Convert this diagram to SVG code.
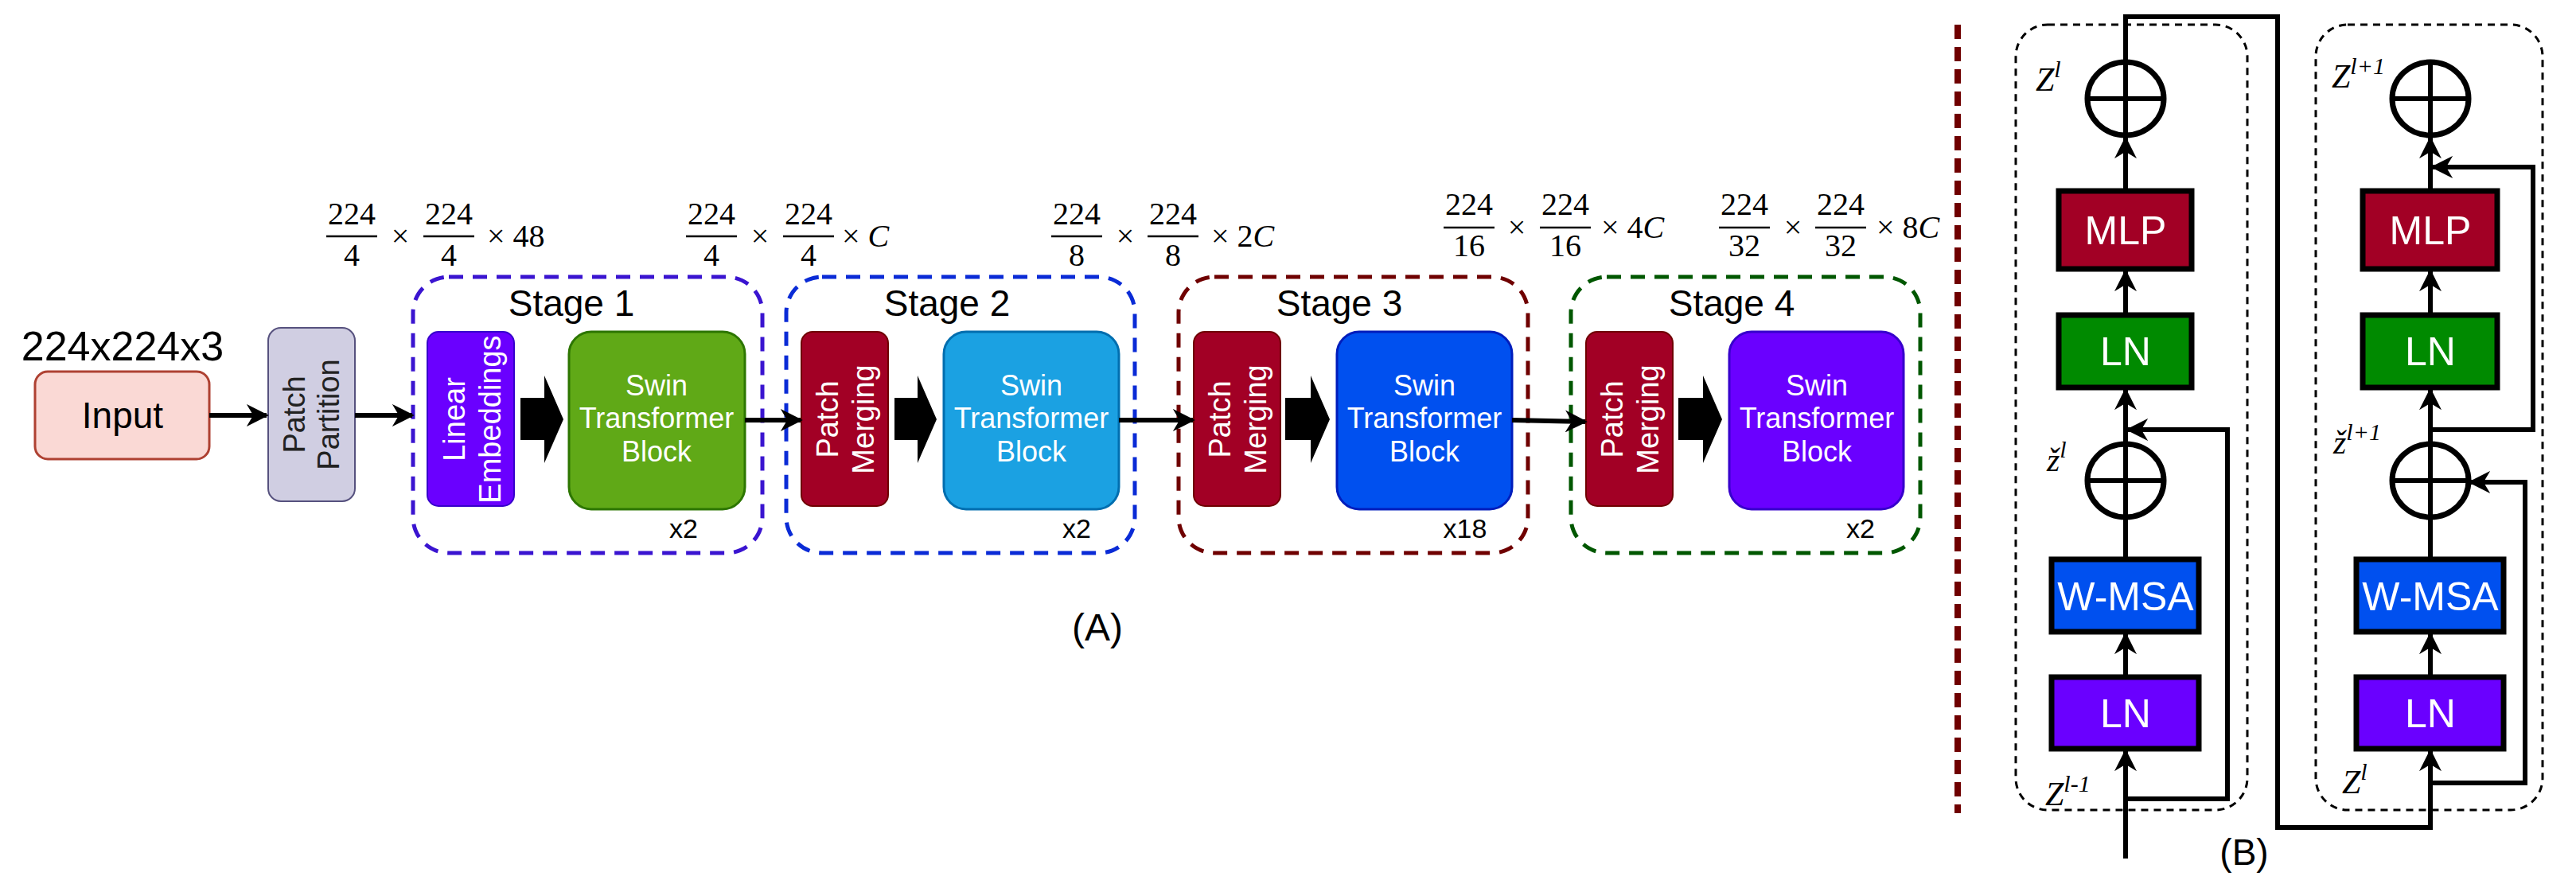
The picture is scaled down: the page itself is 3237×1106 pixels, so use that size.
<svg xmlns="http://www.w3.org/2000/svg" width="3237" height="1106" viewBox="0 0 3237 1106">
<style>
.s{font-family:"Liberation Sans",Arial,sans-serif}
.m{font-family:"Liberation Serif","DejaVu Serif",serif;font-size:40px}
.z{font-family:"Liberation Serif","DejaVu Serif",serif;font-style:italic;font-size:42px}
.w{fill:#fff}
.stage{fill:none;stroke-width:5;stroke-dasharray:18 12}
.big{fill:#000}
.ln{stroke:#000;stroke-width:6;fill:none}
.bx{stroke:#000;stroke-width:7}
.bar{stroke:#000;stroke-width:2.5}
</style>
<defs>
<marker id="ah2" viewBox="0 0 10 10" refX="9" refY="5" markerWidth="28" markerHeight="28" orient="auto" markerUnits="userSpaceOnUse">
<path d="M0,0 L10,5 L0,10 L3,5 Z" fill="#000"/>
</marker>
</defs>

<g id="input">
<text class="s" x="154" y="453" font-size="52" text-anchor="middle">224x224x3</text>
<rect x="44" y="467" width="219" height="110" rx="16" fill="#fad9d5" stroke="#ae4132" stroke-width="3"/>
<text class="s" x="154" y="538" font-size="46" text-anchor="middle">Input</text>
</g>
<g id="patch-partition">
<rect x="337" y="412" width="109" height="218" rx="16" fill="#d0cee2" stroke="#56517e" stroke-width="2"/>
<text class="s" font-size="38" text-anchor="middle" transform="translate(391,521) rotate(-90)" fill="#222"><tspan x="0" y="-8">Patch</tspan><tspan x="0" y="35">Partition</tspan></text>
</g>

<g id="stage1">
<rect class="stage" x="519" y="348" width="439" height="347" rx="45" stroke="#3a14d0"/>
<text class="s" x="718" y="397" font-size="46" text-anchor="middle">Stage 1</text>
<rect x="537" y="417" width="109" height="219" rx="14" fill="#6a00ff" stroke="#3700cc" stroke-width="2"/>
<text class="s w" font-size="38" text-anchor="middle" transform="translate(592,527) rotate(-90)"><tspan x="0" y="-8">Linear</tspan><tspan x="0" y="37">Embeddings</tspan></text>
<path class="big" d="M654,500 H684 V472 L708,527 L684,582 V553 H654 Z"/>
<rect x="715" y="417" width="221" height="223" rx="28" fill="#60a917" stroke="#2d7600" stroke-width="3"/>
<text class="s w" font-size="36" text-anchor="middle"><tspan x="825" y="497">Swin</tspan><tspan x="825" y="538">Transformer</tspan><tspan x="825" y="580">Block</tspan></text>
<text class="s" x="859" y="676" font-size="34" text-anchor="middle">x2</text>
</g>

<g id="stage2">
<rect class="stage" x="988" y="348" width="438" height="347" rx="45" stroke="#0a2bd6"/>
<text class="s" x="1190" y="397" font-size="46" text-anchor="middle">Stage 2</text>
<rect x="1007" y="417" width="109" height="219" rx="14" fill="#a20025" stroke="#6f0000" stroke-width="2"/>
<text class="s w" font-size="38" text-anchor="middle" transform="translate(1062,527) rotate(-90)"><tspan x="0" y="-9">Patch</tspan><tspan x="0" y="36">Merging</tspan></text>
<path class="big" d="M1124,500 H1153 V472 L1177,527 L1153,582 V553 H1124 Z"/>
<rect x="1186" y="417" width="220" height="223" rx="28" fill="#1ba1e2" stroke="#006eaf" stroke-width="3"/>
<text class="s w" font-size="36" text-anchor="middle"><tspan x="1296" y="497">Swin</tspan><tspan x="1296" y="538">Transformer</tspan><tspan x="1296" y="580">Block</tspan></text>
<text class="s" x="1353" y="676" font-size="34" text-anchor="middle">x2</text>
</g>

<g id="stage3">
<rect class="stage" x="1481" y="348" width="439" height="347" rx="45" stroke="#6f0000"/>
<text class="s" x="1683" y="397" font-size="46" text-anchor="middle">Stage 3</text>
<rect x="1500" y="417" width="109" height="219" rx="14" fill="#a20025" stroke="#6f0000" stroke-width="2"/>
<text class="s w" font-size="38" text-anchor="middle" transform="translate(1555,527) rotate(-90)"><tspan x="0" y="-9">Patch</tspan><tspan x="0" y="36">Merging</tspan></text>
<path class="big" d="M1615,500 H1647 V472 L1671,527 L1647,582 V553 H1615 Z"/>
<rect x="1680" y="417" width="220" height="223" rx="28" fill="#0050ef" stroke="#001dbc" stroke-width="3"/>
<text class="s w" font-size="36" text-anchor="middle"><tspan x="1790" y="497">Swin</tspan><tspan x="1790" y="538">Transformer</tspan><tspan x="1790" y="580">Block</tspan></text>
<text class="s" x="1841" y="676" font-size="34" text-anchor="middle">x18</text>
</g>

<g id="stage4">
<rect class="stage" x="1974" y="348" width="439" height="347" rx="45" stroke="#005700"/>
<text class="s" x="2176" y="397" font-size="46" text-anchor="middle">Stage 4</text>
<rect x="1993" y="417" width="109" height="219" rx="14" fill="#a20025" stroke="#6f0000" stroke-width="2"/>
<text class="s w" font-size="38" text-anchor="middle" transform="translate(2048,527) rotate(-90)"><tspan x="0" y="-9">Patch</tspan><tspan x="0" y="36">Merging</tspan></text>
<path class="big" d="M2109,500 H2140 V472 L2164,527 L2140,582 V553 H2109 Z"/>
<rect x="2173" y="417" width="219" height="223" rx="28" fill="#6a00ff" stroke="#3700cc" stroke-width="3"/>
<text class="s w" font-size="36" text-anchor="middle"><tspan x="2283" y="497">Swin</tspan><tspan x="2283" y="538">Transformer</tspan><tspan x="2283" y="580">Block</tspan></text>
<text class="s" x="2338" y="676" font-size="34" text-anchor="middle">x2</text>
</g>

<g id="connectors-a" stroke="#000" stroke-width="6" fill="none">
<line x1="263" y1="522" x2="335" y2="522" marker-end="url(#ah2)"/>
<line x1="446" y1="522" x2="518" y2="522" marker-end="url(#ah2)"/>
<line x1="936" y1="528" x2="1006" y2="528" marker-end="url(#ah2)"/>
<line x1="1406" y1="528" x2="1499" y2="528" marker-end="url(#ah2)"/>
<line x1="1900" y1="528" x2="1992" y2="530" marker-end="url(#ah2)"/>
</g>

<g id="dims">
<g>
<text class="m" x="442" y="282" text-anchor="middle">224</text><line class="bar" x1="410" y1="297" x2="474" y2="297"/><text class="m" x="442" y="334" text-anchor="middle">4</text>
<text class="m" x="503" y="310" text-anchor="middle">×</text>
<text class="m" x="564" y="282" text-anchor="middle">224</text><line class="bar" x1="532" y1="297" x2="596" y2="297"/><text class="m" x="564" y="334" text-anchor="middle">4</text>
<text class="m" x="612" y="310">× 48</text>
</g>
<g>
<text class="m" x="894" y="282" text-anchor="middle">224</text><line class="bar" x1="862" y1="297" x2="926" y2="297"/><text class="m" x="894" y="334" text-anchor="middle">4</text>
<text class="m" x="955" y="310" text-anchor="middle">×</text>
<text class="m" x="1016" y="282" text-anchor="middle">224</text><line class="bar" x1="984" y1="297" x2="1048" y2="297"/><text class="m" x="1016" y="334" text-anchor="middle">4</text>
<text class="m" x="1058" y="310">× <tspan font-style="italic">C</tspan></text>
</g>
<g>
<text class="m" x="1353" y="282" text-anchor="middle">224</text><line class="bar" x1="1321" y1="297" x2="1385" y2="297"/><text class="m" x="1353" y="334" text-anchor="middle">8</text>
<text class="m" x="1414" y="310" text-anchor="middle">×</text>
<text class="m" x="1474" y="282" text-anchor="middle">224</text><line class="bar" x1="1442" y1="297" x2="1506" y2="297"/><text class="m" x="1474" y="334" text-anchor="middle">8</text>
<text class="m" x="1522" y="310">× 2<tspan font-style="italic">C</tspan></text>
</g>
<g>
<text class="m" x="1846" y="270" text-anchor="middle">224</text><line class="bar" x1="1814" y1="286" x2="1878" y2="286"/><text class="m" x="1846" y="322" text-anchor="middle">16</text>
<text class="m" x="1906" y="299" text-anchor="middle">×</text>
<text class="m" x="1967" y="270" text-anchor="middle">224</text><line class="bar" x1="1935" y1="286" x2="1999" y2="286"/><text class="m" x="1967" y="322" text-anchor="middle">16</text>
<text class="m" x="2012" y="299">× 4<tspan font-style="italic">C</tspan></text>
</g>
<g>
<text class="m" x="2192" y="270" text-anchor="middle">224</text><line class="bar" x1="2160" y1="286" x2="2224" y2="286"/><text class="m" x="2192" y="322" text-anchor="middle">32</text>
<text class="m" x="2253" y="299" text-anchor="middle">×</text>
<text class="m" x="2313" y="270" text-anchor="middle">224</text><line class="bar" x1="2281" y1="286" x2="2345" y2="286"/><text class="m" x="2313" y="322" text-anchor="middle">32</text>
<text class="m" x="2358" y="299">× 8<tspan font-style="italic">C</tspan></text>
</g>
</g>
<text class="s" x="1379" y="805" font-size="48" text-anchor="middle">(A)</text>

<line x1="2460" y1="31" x2="2460" y2="1022" stroke="#6f0000" stroke-width="8" stroke-dasharray="18 10"/>

<g id="block-l">
<rect x="2533" y="31" width="291" height="987" rx="40" fill="none" stroke="#000" stroke-width="3" stroke-dasharray="9 7"/>
<ellipse cx="2671" cy="124" rx="48" ry="46" fill="none" stroke="#000" stroke-width="7"/>
<line x1="2623" y1="124" x2="2719" y2="124" stroke="#000" stroke-width="6"/>
<rect class="bx" x="2587" y="240" width="167" height="98" fill="#a20025"/>
<text class="s w" x="2671" y="307" font-size="50" text-anchor="middle">MLP</text>
<rect class="bx" x="2587" y="396" width="167" height="91" fill="#008a00"/>
<text class="s w" x="2671" y="459" font-size="50" text-anchor="middle">LN</text>
<ellipse cx="2671" cy="604" rx="48" ry="46" fill="none" stroke="#000" stroke-width="7"/>
<line x1="2623" y1="604" x2="2719" y2="604" stroke="#000" stroke-width="6"/>
<rect class="bx" x="2578" y="703" width="185" height="91" fill="#0050ef"/>
<text class="s w" x="2671" y="767" font-size="50" text-anchor="middle">W-MSA</text>
<rect class="bx" x="2578" y="851" width="185" height="90" fill="#6a00ff"/>
<text class="s w" x="2671" y="914" font-size="50" text-anchor="middle">LN</text>
<text class="z" x="2558" y="114">Z<tspan font-size="30" dy="-17">l</tspan></text>
<text class="z" x="2572" y="592">ž<tspan font-size="30" dy="-17">l</tspan></text>
<text class="z" x="2570" y="1012">Z<tspan font-size="30" dy="-17">l-1</tspan></text>
</g>
<g id="block-r">
<rect x="2910" y="31" width="285" height="987" rx="40" fill="none" stroke="#000" stroke-width="3" stroke-dasharray="9 7"/>
<ellipse cx="3054" cy="124" rx="48" ry="46" fill="none" stroke="#000" stroke-width="7"/>
<line x1="3006" y1="124" x2="3102" y2="124" stroke="#000" stroke-width="6"/>
<rect class="bx" x="2969" y="240" width="169" height="98" fill="#a20025"/>
<text class="s w" x="3054" y="307" font-size="50" text-anchor="middle">MLP</text>
<rect class="bx" x="2969" y="396" width="169" height="91" fill="#008a00"/>
<text class="s w" x="3054" y="459" font-size="50" text-anchor="middle">LN</text>
<ellipse cx="3054" cy="604" rx="48" ry="46" fill="none" stroke="#000" stroke-width="7"/>
<line x1="3006" y1="604" x2="3102" y2="604" stroke="#000" stroke-width="6"/>
<rect class="bx" x="2961" y="703" width="185" height="91" fill="#0050ef"/>
<text class="s w" x="3054" y="767" font-size="50" text-anchor="middle">W-MSA</text>
<rect class="bx" x="2961" y="851" width="185" height="90" fill="#6a00ff"/>
<text class="s w" x="3054" y="914" font-size="50" text-anchor="middle">LN</text>
<text class="z" x="2930" y="110">Z<tspan font-size="30" dy="-17">l+1</tspan></text>
<text class="z" x="2932" y="570">ž<tspan font-size="30" dy="-17">l+1</tspan></text>
<text class="z" x="2943" y="997">Z<tspan font-size="30" dy="-17">l</tspan></text>
</g>
<g id="connectors-b" class="ln">
<line x1="2671" y1="1079" x2="2671" y2="944" marker-end="url(#ah2)"/>
<line x1="2671" y1="851" x2="2671" y2="797" marker-end="url(#ah2)"/>
<line x1="2671" y1="703" x2="2671" y2="557"/>
<line x1="2671" y1="557" x2="2671" y2="490" marker-end="url(#ah2)"/>
<line x1="2671" y1="396" x2="2671" y2="341" marker-end="url(#ah2)"/>
<line x1="2671" y1="240" x2="2671" y2="174" marker-end="url(#ah2)"/>
<path d="M2671,174 V21 H2862 V1040 H3054 V944" marker-end="url(#ah2)"/>
<path d="M2671,1004 H2799 V540 H2674" marker-end="url(#ah2)"/>
<line x1="3054" y1="851" x2="3054" y2="797" marker-end="url(#ah2)"/>
<line x1="3054" y1="703" x2="3054" y2="557"/>
<line x1="3054" y1="557" x2="3054" y2="490" marker-end="url(#ah2)"/>
<line x1="3054" y1="396" x2="3054" y2="341" marker-end="url(#ah2)"/>
<line x1="3054" y1="240" x2="3054" y2="77"/>
<line x1="3054" y1="240" x2="3054" y2="174" marker-end="url(#ah2)"/>
<path d="M3054,984 H3173 V606 H3104" marker-end="url(#ah2)"/>
<path d="M3054,540 H3183 V210 H3057" marker-end="url(#ah2)"/>
</g>
<text class="s" x="2820" y="1087" font-size="46" text-anchor="middle">(B)</text>
</svg>
